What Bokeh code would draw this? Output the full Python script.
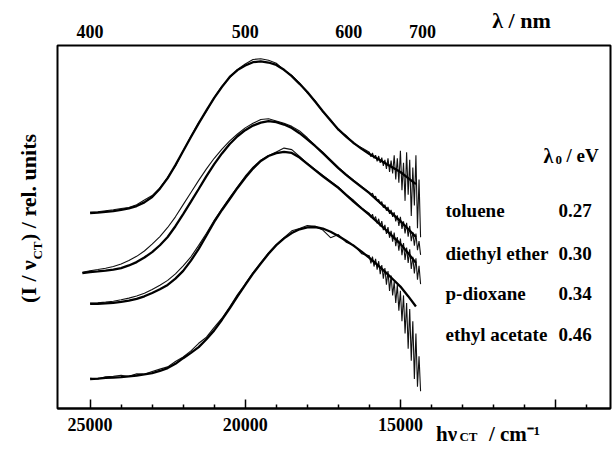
import numpy as np
from bokeh.plotting import figure
from bokeh.models import Range1d, LinearAxis, FixedTicker, Label, CustomJSTickFormatter
from bokeh.embed import file_html
from bokeh.resources import INLINE

nan = float("nan")

# ---------------- data ----------------
SOLVENTS = ["toluene", "diethyl ether", "p-dioxane", "ethyl acetate"]
LAMBDA0 = ["0.27", "0.30", "0.34", "0.46"]
# vertical stacking offset of each spectrum (rel. units, peak height = 1)
OFFSETS = [1.286, 0.891, 0.688, 0.194]

WAVELENGTH_TICKS = [400, 500, 600, 700]          # nm, top axis
WAVENUMBER_MAJOR = [25000, 20000, 15000, 10000]   # cm-1, bottom axis
WAVENUMBER_MINOR = [24000, 23000, 22000, 21000, 19000, 18000, 17000, 16000,
                    14000, 13000, 12000, 11000, 9000]

# fitted band shapes (%, of peak)
WN_FIT = [25250, 25000, 24750, 24500, 24250, 24000, 23750, 23500, 23250, 23000,
          22750, 22500, 22250, 22000, 21750, 21500, 21250, 21000, 20750, 20500,
          20250, 20000, 19750, 19500, 19250, 19000, 18750, 18500, 18250, 18000,
          17750, 17500, 17250, 17000, 16750, 16500, 16250, 16000, 15750, 15500,
          15250, 15000, 14750, 14500]
FIT_TOLUENE = [nan, 0, 0.3, 0.7, 1.2, 2.0, 3.1, 4.6, 7.0, 10.5, 16, 23, 31.5, 40.8,
               50, 59, 67.5, 75.7, 83, 89.5, 94, 97, 99.2, 99.7, 99, 97.4, 94.2,
               90, 85, 79.6, 73.3, 67, 60.8, 55, 50.3, 46, 42.2, 38.8, 35.8, 32.9,
               30, 27, 23, 19]
FIT_DIETHYL = [0, 0.7, 1.1, 1.6, 2.3, 3.3, 5, 7.2, 10.2, 13.8, 18.3, 23.7, 30.8,
               38.8, 47, 55.3, 63.8, 71.7, 78.7, 84.9, 90, 94, 97, 99, 100, 99.3,
               97.7, 95.4, 92, 88, 83.6, 78.9, 74, 69, 64.6, 60.5, 56.5, 52.6, 48,
               43.4, 38.8, 34.2, 29, 23.7]
FIT_DIOXANE = [nan, 0, 0.1, 0.3, 0.7, 1.3, 2.2, 3.3, 5, 7.2, 9.6, 12.5, 16.6, 21.7,
               28.5, 36.2, 45, 53.9, 61.8, 69, 76.3, 83, 89, 94, 97.3, 99.2, 100,
               99.3, 96.3, 92.1, 88, 84, 80.2, 76.3, 71.7, 67.1, 62.8, 58.6, 54,
               49.3, 44.4, 39.5, 33.3, 27]
FIT_ETHYLAC = [nan, 0, 0.3, 0.7, 1, 1.3, 1.8, 2.3, 3, 3.9, 5.3, 7.2, 10, 13.7, 17.2,
               21, 26.2, 32, 39, 46.5, 54.3, 62, 69.3, 76, 82.4, 88, 92.5, 96,
               98.5, 99.8, 100, 99, 96.9, 94.1, 91, 87.6, 83.8, 79.7, 75.2, 70.6,
               65.8, 60.8, 54.5, 47.7]

# measured spectra (%, of peak)
WN_DATA = [25250, 25000, 24750, 24500, 24250, 24000, 23750, 23500, 23250, 23000,
           22750, 22500, 22250, 22000, 21750, 21500, 21250, 21000, 20750, 20500,
           20250, 20000, 19750, 19500, 19250, 19000, 18750, 18500, 18250, 18000,
           17750, 17500, 17250, 17000, 16750, 16500, 16250,
           16000, 15950, 15900, 15850, 15800, 15750, 15700, 15650, 15600, 15550,
           15500, 15450, 15400, 15350, 15300, 15250, 15200, 15150, 15100, 15050,
           15000, 14950, 14900, 14850, 14800, 14750, 14700, 14650, 14600, 14550,
           14500, 14450, 14400, 14350]
DATA_TOLUENE = [nan, 0.5, 0.8, 1.5, 2.2, 3.0, 3.6, 5.5, 8.5, 11.5, 16.5, 23.5, 31,
                41, 50.5, 59.5, 67, 76, 83.5, 89, 94.5, 98, 101, 101.5, 100.5,
                98.5, 94, 90.5, 85.5, 79, 74, 66.5, 61.5, 54.5, 51, 45.5, 43,
                40, 37, 39.5, 36, 38, 34, 37.5, 33, 36.5, 31, 35, 29, 36, 27, 34.5,
                26, 38, 22, 36, 20, 41, 15, 33, 8, 40, 12, 35, -2, 30, 5, 38, -10,
                22, -16]
DATA_DIETHYL = [0.5, 1.5, 2.3, 3.2, 4.3, 6, 8.2, 11, 14.5, 19, 24, 30, 37, 45, 53,
                61, 68.5, 75.5, 81.5, 87, 91.5, 95.5, 98.5, 101, 101.5, 100, 98.5,
                96.5, 93.5, 89, 84, 79.5, 74.5, 69.5, 65, 61, 57,
                53, 51.5, 52.5, 50, 50.5, 47.5, 48.5, 45.5, 47, 43, 45, 41, 43.5,
                39, 41.5, 37, 40, 34, 38, 31, 37, 29, 34, 26, 33, 24, 31, 21, 27,
                18, 26, 15, 21, 12]
DATA_DIOXANE = [nan, 0.5, 0.7, 1.2, 1.8, 2.7, 3.8, 5.2, 7, 9.5, 12.3, 15.5, 19.8,
                25, 31, 38.5, 46.5, 55, 62.5, 70, 77, 84, 90, 94.5, 97.5, 100,
                102.5, 101.5, 97, 92.5, 88.5, 84.5, 80.5, 77, 72, 68, 63,
                59.5, 57, 59, 55.5, 57.5, 53, 56, 51, 54.5, 48.5, 52, 46, 50.5,
                43.5, 48, 41, 47, 38, 44, 35, 43, 32, 40, 29, 37, 27, 36, 23, 31,
                20, 30, 16, 25, 13]
DATA_ETHYLAC = [nan, 0.5, 0, 1.5, 1.8, 2.5, 1.6, 3.5, 3.2, 5, 6.5, 8, 11.5, 14.5,
                18.5, 23.5, 27.5, 34, 40, 47.5, 55.5, 62.5, 70, 76.5, 83, 88.5, 93,
                97.5, 99, 101, 100.5, 98, 93, 95, 90, 88, 82.5,
                81, 76, 80.5, 74, 79, 72, 77.5, 69, 75, 66, 73, 62, 71, 58, 68, 55,
                64, 50, 62, 45, 58, 38, 55, 30, 50, 20, 46, 12, 38, 0, 30, -5, 15,
                -8]

FITS = [FIT_TOLUENE, FIT_DIETHYL, FIT_DIOXANE, FIT_ETHYLAC]
DATAS = [DATA_TOLUENE, DATA_DIETHYL, DATA_DIOXANE, DATA_ETHYLAC]

# ---------------- layout ----------------
W, H = 615, 449
LEFT, RIGHT, TOP, BOTTOM = 57, 610, 45, 408
X_START, X_END = 26050, 8230
Y_END = 2.388
FONT = "Liberation Serif"


def X(px):
    return X_START - (px - LEFT) / (RIGHT - LEFT) * (X_START - X_END)


def Y(py):
    return (BOTTOM - py) / (BOTTOM - TOP) * Y_END


p = figure(width=W, height=H, output_backend="svg", toolbar_location=None,
           x_range=Range1d(X_START, X_END), y_range=Range1d(0, Y_END),
           min_border_left=LEFT, min_border_right=W - RIGHT,
           min_border_top=TOP, min_border_bottom=H - BOTTOM)
p.yaxis.visible = False
p.grid.visible = False
p.outline_line_color = "black"
p.outline_line_width = 2
p.background_fill_color = "white"
p.border_fill_color = "white"

xa = p.xaxis[0]
xa.ticker = FixedTicker(ticks=WAVENUMBER_MAJOR, minor_ticks=WAVENUMBER_MINOR)
xa.major_label_overrides = {10000: ""}
xa.axis_line_width = 2
xa.axis_line_color = "black"
xa.major_tick_in = 9
xa.major_tick_out = 0
xa.minor_tick_in = 4
xa.minor_tick_out = 0
xa.major_tick_line_width = 1.5
xa.minor_tick_line_width = 1.5
xa.major_label_text_font = FONT
xa.major_label_text_font_style = "bold"
xa.major_label_text_font_size = "18px"
xa.major_label_text_color = "black"
xa.major_label_standoff = 9

top = LinearAxis(ticker=FixedTicker(ticks=[1e7 / w for w in WAVELENGTH_TICKS]),
                 formatter=CustomJSTickFormatter(code="return Math.round(1e7 / tick).toString();"))
top.axis_line_color = None
top.major_tick_line_color = None
top.minor_tick_line_color = None
top.major_tick_in = 0
top.major_tick_out = 0
top.major_label_text_font = FONT
top.major_label_text_font_style = "bold"
top.major_label_text_font_size = "18px"
top.major_label_text_color = "black"
top.major_label_standoff = 8
p.add_layout(top, "above")

for fit, dat, off in zip(FITS, DATAS, OFFSETS):
    yd = off + np.array(dat, dtype=float) / 100.0
    yf = off + np.array(fit, dtype=float) / 100.0
    p.line(np.array(WN_DATA, dtype=float), yd, line_width=1.1, line_color="#111111")
    p.line(np.array(WN_FIT, dtype=float), yf, line_width=2.3, line_color="black")


def label(text, px, py, size):
    p.add_layout(Label(x=X(px), y=Y(py), text=text, text_font=FONT,
                       text_font_style="bold", text_font_size=f"{size}px",
                       text_color="black", text_align="left",
                       text_baseline="alphabetic"))


# legend block (inside the frame)
label("λ", 543, 155, 20)
label("0", 555, 159, 13)
label("/ eV", 566, 155, 19)
for name, l0, by in zip(SOLVENTS, LAMBDA0, [210, 253, 293, 334]):
    label(name, 445, by, 19)
    label(l0, 558, by, 19)


# axis titles drawn as label-only axes stacked in the side panels
PICK = ("let b = 0; for (let i = 0; i < pos.length; i++) {"
        " if (Math.abs(pos[i] - tick) < Math.abs(pos[b] - tick)) b = i; }"
        " return labels[b];")


def title_axis(side, centers_px, texts, size, standoff):
    horizontal = side in ("above", "below")
    pos = [X(c) if horizontal else Y(c) for c in centers_px]
    ax = LinearAxis(ticker=FixedTicker(ticks=pos, minor_ticks=[]),
                    formatter=CustomJSTickFormatter(args=dict(pos=pos, labels=texts), code=PICK))
    ax.axis_line_color = None
    ax.major_tick_line_color = None
    ax.minor_tick_line_color = None
    ax.major_tick_in = 0
    ax.major_tick_out = 0
    ax.minor_tick_in = 0
    ax.minor_tick_out = 0
    ax.major_label_standoff = standoff
    ax.major_label_text_font = FONT
    ax.major_label_text_font_style = "bold"
    ax.major_label_text_font_size = f"{size}px"
    ax.major_label_text_color = "black"
    if not horizontal:
        ax.major_label_orientation = "vertical"
    p.add_layout(ax, side)


title_axis("above", [521], ["λ / nm"], 22, -11)
title_axis("below", [468], ["CT"], 13, -5)
title_axis("below", [446, 514], ["hν", "/ cm⁻¹"], 21, -25)
title_axis("left", [250], ["CT"], 13, 13)
title_axis("left", [281, 187], ["(I / ν", ") / rel. units"], 22, -14)

open("out.html", "w").write(file_html(p, INLINE))
